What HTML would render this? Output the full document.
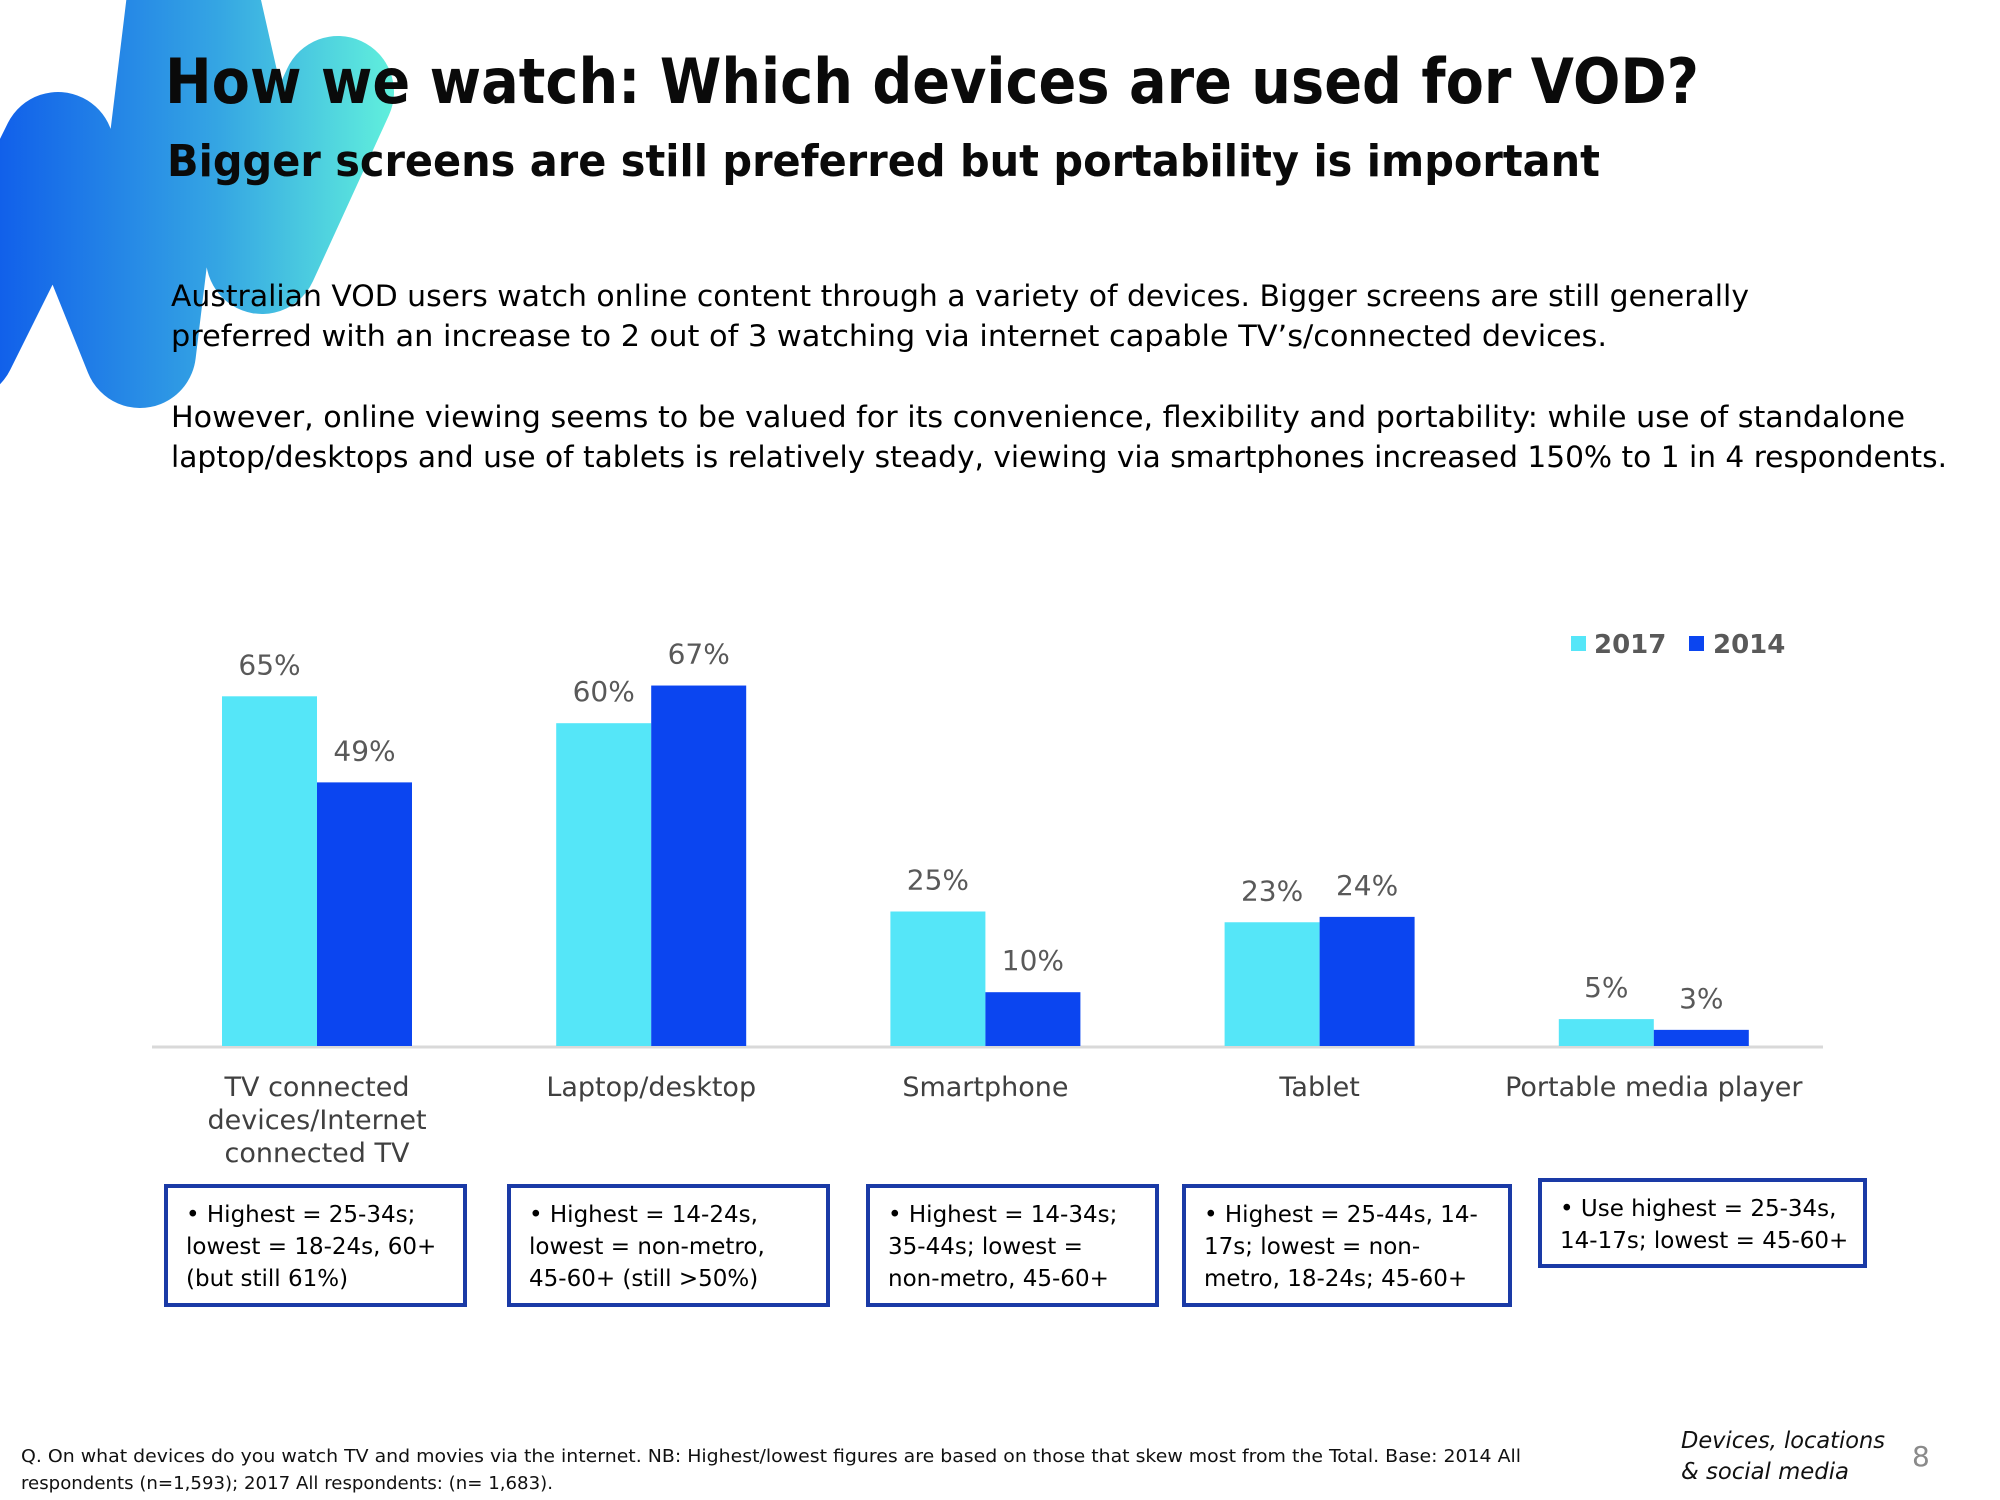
<!DOCTYPE html>
<html><head><meta charset="utf-8"><style>
html,body{margin:0;padding:0;background:#fff;}
svg{display:block;}
text{font-family:"DejaVu Sans","Liberation Sans",sans-serif;}
</style></head><body>
<svg id="chart" width="2000" height="1500" viewBox="0 0 2000 1500">
<defs>
<linearGradient id="lg" x1="0" y1="0" x2="400" y2="0" gradientUnits="userSpaceOnUse">
<stop offset="0" stop-color="#1160ea"/><stop offset="0.55" stop-color="#35a6e3"/><stop offset="1" stop-color="#62f2dc"/>
</linearGradient>
</defs>
<g>
<polyline points="-40,345 58,148 140,352 190,-60 262,258 338,92" fill="none" stroke="url(#lg)" stroke-width="112" stroke-linejoin="round" stroke-linecap="round"/>
</g>
<text x="165" y="103" font-size="62" font-weight="bold" fill="#0a0a0a" textLength="1534" lengthAdjust="spacingAndGlyphs">How we watch: Which devices are used for VOD?</text>
<text x="167" y="176" font-size="44" font-weight="bold" fill="#0a0a0a" textLength="1433" lengthAdjust="spacingAndGlyphs">Bigger screens are still preferred but portability is important</text>
<g font-size="29" fill="#000">
<text x="171" y="306" textLength="1578" lengthAdjust="spacingAndGlyphs">Australian VOD users watch online content through a variety of devices. Bigger screens are still generally</text>
<text x="171" y="346" textLength="1436" lengthAdjust="spacingAndGlyphs">preferred with an increase to 2 out of 3 watching via internet capable TV’s/connected devices.</text>
<text x="171" y="427" textLength="1734" lengthAdjust="spacingAndGlyphs">However, online viewing seems to be valued for its convenience, flexibility and portability: while use of standalone</text>
<text x="171" y="467" textLength="1776" lengthAdjust="spacingAndGlyphs">laptop/desktops and use of tablets is relatively steady, viewing via smartphones increased 150% to 1 in 4 respondents.</text>
</g>
<g id="bars"></g>
<g font-size="26" font-weight="bold" fill="#595959">
<rect x="1571" y="636" width="15" height="15" fill="#55e6f8"/>
<text x="1594" y="653">2017</text>
<rect x="1689" y="636" width="15" height="15" fill="#0b45f0"/>
<text x="1713" y="653">2014</text>
</g>
<g id="boxes"></g>
<g font-size="18" fill="#111">
<text x="21" y="1462" textLength="1500" lengthAdjust="spacingAndGlyphs">Q. On what devices do you watch TV and movies via the internet. NB: Highest/lowest figures are based on those that skew most from the Total. Base: 2014 All</text>
<text x="21" y="1489" textLength="532" lengthAdjust="spacingAndGlyphs">respondents (n=1,593); 2017 All respondents: (n= 1,683).</text>
</g>
<g font-size="23" font-style="italic" fill="#111">
<text x="1681" y="1448" textLength="204" lengthAdjust="spacingAndGlyphs">Devices, locations</text>
<text x="1681" y="1479" textLength="168" lengthAdjust="spacingAndGlyphs">&amp; social media</text>
</g>
<text x="1912" y="1466" font-size="28" fill="#8a8a8a">8</text>
</svg>
<script>
const categories = [["TV connected","devices/Internet","connected TV"],["Laptop/desktop"],["Smartphone"],["Tablet"],["Portable media player"]];
const values2017 = [65, 60, 25, 23, 5];
const values2014 = [49, 67, 10, 24, 3];
const notes = [
 ["• Highest = 25-34s;","lowest = 18-24s, 60+","(but still 61%)"],
 ["• Highest = 14-24s,","lowest = non-metro,","45-60+ (still >50%)"],
 ["• Highest = 14-34s;","35-44s; lowest =","non-metro, 45-60+"],
 ["• Highest = 25-44s, 14-","17s; lowest = non-","metro, 18-24s; 45-60+"],
 ["• Use highest = 25-34s,","14-17s; lowest = 45-60+"]
];
const NS = "http://www.w3.org/2000/svg";
const baseY = 1046, pxPerPct = 5.38, x0 = 317, step = 334.2, bw = 95;
function yScale(v){ return baseY - v*pxPerPct; }
function xCenter(i){ return x0 + i*step; }
function mk(tag, attrs, parent){ const e=document.createElementNS(NS,tag); for(const k in attrs) e.setAttribute(k,attrs[k]); parent.appendChild(e); return e; }
const g = document.getElementById('bars');
const axis = mk('line',{x1:152,x2:1823,y1:baseY+1,y2:baseY+1,stroke:'#d9d9d9','stroke-width':3},g);


const series = [[values2017,'#55e6f8',-1,'2017'],[values2014,'#0b45f0',0,'2014']];
categories.forEach((cat,i)=>{
  series.forEach(([vals,col,off,yr])=>{
    const v = vals[i];
    const x = xCenter(i) + off*bw;
    const r = mk('rect',{x:x,y:yScale(v),width:bw,height:v*pxPerPct,fill:col},g);
    
    
    const t = mk('text',{x:x+bw/2,y:yScale(v)-22,'text-anchor':'middle','font-size':28,fill:'#595959'},g);
    
    
    t.textContent = v+'%';
  });
  cat.forEach((line,j)=>{
    const t = mk('text',{x:xCenter(i),y:1096+j*33,'text-anchor':'middle','font-size':27,fill:'#404040'},g);
    
    
    t.textContent = line;
  });
});
const boxes = document.getElementById('boxes');
const boxGeo = [[166,1186,299,119],[509,1186,319,119],[868,1186,289,119],[1184,1186,326,119],[1540,1180,325,86]];
notes.forEach((lines,i)=>{
  const [bx,by,w,h] = boxGeo[i];
  const r = mk('rect',{x:bx,y:by,width:w,height:h,fill:'#fff',stroke:'#1a3aa6','stroke-width':4},boxes);
  
  
  lines.forEach((ln,j)=>{
    const t = mk('text',{x:bx+20,y:by+36+j*32,'font-size':23,fill:'#000'},boxes);
    
    
    t.textContent = ln;
  });
});
</script>
</body></html>
